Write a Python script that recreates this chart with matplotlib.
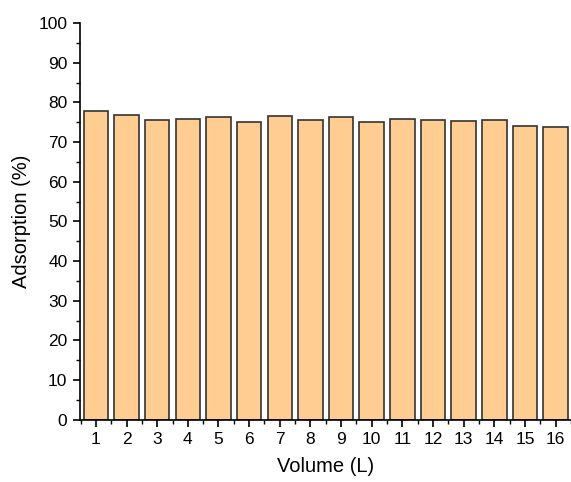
import matplotlib

matplotlib.use("Agg")
import matplotlib.pyplot as plt
from matplotlib.ticker import MultipleLocator

volumes = list(range(1, 17))
adsorption = [77.8, 76.9, 75.6, 75.8, 76.4, 75.1, 76.6, 75.5,
              76.4, 75.1, 75.8, 75.6, 75.3, 75.5, 74.1, 73.8]

plt.rcParams["font.family"] = ["Liberation Sans", "DejaVu Sans"]

fig = plt.figure(figsize=(5.71, 4.82), dpi=100)
ax = fig.add_axes([0.140, 0.129, 0.860, 0.823])

ax.bar(volumes, adsorption, width=0.8, color="#FFCC91",
       edgecolor="#333333", linewidth=1.2)

ax.set_xlim(0.48, 16.5)
ax.set_ylim(0, 100)
ax.xaxis.set_major_locator(MultipleLocator(1))
ax.xaxis.set_minor_locator(MultipleLocator(0.5))
ax.yaxis.set_major_locator(MultipleLocator(10))
ax.yaxis.set_minor_locator(MultipleLocator(5))
ax.tick_params(which="major", direction="out", length=5, width=1.2,
               labelsize=12.5, pad=4)
ax.tick_params(which="minor", direction="out", length=3, width=1.0)
for side in ("top", "right"):
    ax.spines[side].set_visible(False)
for side in ("left", "bottom"):
    ax.spines[side].set_linewidth(1.2)

ax.set_xlabel("Volume (L)", fontsize=14.5, labelpad=7)
ax.set_ylabel("Adsorption (%)", fontsize=14.5, labelpad=5)

fig.savefig("out.png", dpi=100)
plt.close(fig)
